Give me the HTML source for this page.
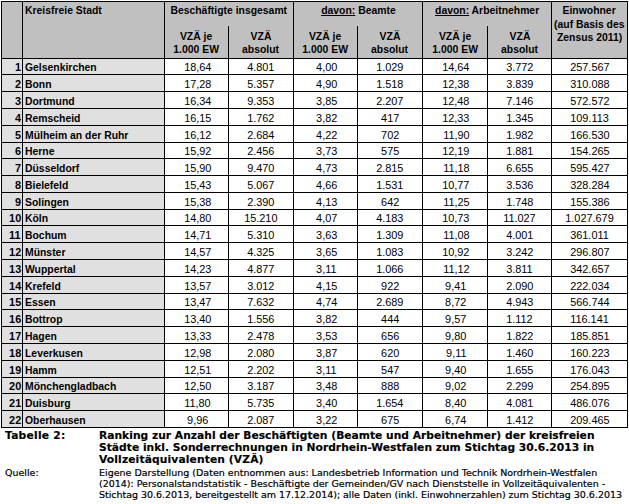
<!DOCTYPE html>
<html><head><meta charset="utf-8"><title>Tabelle 2</title><style>
html,body{margin:0;padding:0;background:#fff;}
body{width:629px;height:504px;position:relative;overflow:hidden;}
.r{position:absolute;}
.t{position:absolute;height:14px;line-height:14px;font-family:"Liberation Sans",Arial,sans-serif;font-size:11px;color:#000;white-space:nowrap;}
.t span{display:inline-block;transform:scaleX(0.945);}
.t.n span{transform:scaleX(0.99);}
.b{font-weight:bold;}
u{text-decoration:underline;text-underline-offset:1px;}
.cb,.cr{position:absolute;white-space:nowrap;font-family:"DejaVu Sans",Verdana,sans-serif;color:#000;height:13px;line-height:13px;}
.cb{font-weight:bold;font-size:10.7px;-webkit-text-stroke:0.15px #000;}
.cr{font-size:9.5px;-webkit-text-stroke:0.2px #000;}
</style></head>
<body>
<div class="r" style="left:1px;top:1px;width:626px;height:57px;background:#c0c0c0"></div>
<div class="r" style="left:1px;top:58px;width:163px;height:369px;background:#e0e0e0"></div>
<div class="t b" style="left:25px;top:3px;width:140px;text-align:left"><span style="transform-origin:left">Kreisfreie Stadt</span></div>
<div class="t b" style="left:164px;top:3px;width:130px;text-align:center"><span style="transform-origin:center">Beschäftigte insgesamt</span></div>
<div class="t b" style="left:293px;top:3px;width:130px;text-align:center"><span style="transform-origin:center"><u>davon:</u> Beamte</span></div>
<div class="t b" style="left:422px;top:3px;width:130px;text-align:center"><span style="transform-origin:center"><u>davon:</u> Arbeitnehmer</span></div>
<div class="t b" style="left:551px;top:3px;width:77px;text-align:center"><span style="transform-origin:center">Einwohner</span></div>
<div class="t b" style="left:551px;top:16.5px;width:77px;text-align:center"><span style="transform-origin:center">(auf Basis des</span></div>
<div class="t b" style="left:551px;top:30px;width:77px;text-align:center"><span style="transform-origin:center">Zensus 2011)</span></div>
<div class="t b" style="left:164px;top:29px;width:65px;text-align:center"><span style="transform-origin:center">VZÄ je</span></div>
<div class="t b" style="left:164px;top:42px;width:65px;text-align:center"><span style="transform-origin:center">1.000 EW</span></div>
<div class="t b" style="left:228px;top:29px;width:66px;text-align:center"><span style="transform-origin:center">VZÄ</span></div>
<div class="t b" style="left:228px;top:42px;width:66px;text-align:center"><span style="transform-origin:center">absolut</span></div>
<div class="t b" style="left:293px;top:29px;width:65px;text-align:center"><span style="transform-origin:center">VZÄ je</span></div>
<div class="t b" style="left:293px;top:42px;width:65px;text-align:center"><span style="transform-origin:center">1.000 EW</span></div>
<div class="t b" style="left:357px;top:29px;width:66px;text-align:center"><span style="transform-origin:center">VZÄ</span></div>
<div class="t b" style="left:357px;top:42px;width:66px;text-align:center"><span style="transform-origin:center">absolut</span></div>
<div class="t b" style="left:422px;top:29px;width:66px;text-align:center"><span style="transform-origin:center">VZÄ je</span></div>
<div class="t b" style="left:422px;top:42px;width:66px;text-align:center"><span style="transform-origin:center">1.000 EW</span></div>
<div class="t b" style="left:487px;top:29px;width:65px;text-align:center"><span style="transform-origin:center">VZÄ</span></div>
<div class="t b" style="left:487px;top:42px;width:65px;text-align:center"><span style="transform-origin:center">absolut</span></div>
<div class="t n b" style="left:1px;top:60px;width:20px;text-align:right"><span style="transform-origin:right">1</span></div>
<div class="t b" style="left:25px;top:60px;width:140px;text-align:left"><span style="transform-origin:left">Gelsenkirchen</span></div>
<div class="t n" style="left:165px;top:60px;width:65px;text-align:center"><span style="transform-origin:center">18,64</span></div>
<div class="t n" style="left:228px;top:60px;width:66px;text-align:center"><span style="transform-origin:center">4.801</span></div>
<div class="t n" style="left:294px;top:60px;width:65px;text-align:center"><span style="transform-origin:center">4,00</span></div>
<div class="t n" style="left:357px;top:60px;width:66px;text-align:center"><span style="transform-origin:center">1.029</span></div>
<div class="t n" style="left:423px;top:60px;width:66px;text-align:center"><span style="transform-origin:center">14,64</span></div>
<div class="t n" style="left:487px;top:60px;width:65px;text-align:center"><span style="transform-origin:center">3.772</span></div>
<div class="t n" style="left:551px;top:60px;width:77px;text-align:center"><span style="transform-origin:center">257.567</span></div>
<div class="t n b" style="left:1px;top:77px;width:20px;text-align:right"><span style="transform-origin:right">2</span></div>
<div class="t b" style="left:25px;top:77px;width:140px;text-align:left"><span style="transform-origin:left">Bonn</span></div>
<div class="t n" style="left:165px;top:77px;width:65px;text-align:center"><span style="transform-origin:center">17,28</span></div>
<div class="t n" style="left:228px;top:77px;width:66px;text-align:center"><span style="transform-origin:center">5.357</span></div>
<div class="t n" style="left:294px;top:77px;width:65px;text-align:center"><span style="transform-origin:center">4,90</span></div>
<div class="t n" style="left:357px;top:77px;width:66px;text-align:center"><span style="transform-origin:center">1.518</span></div>
<div class="t n" style="left:423px;top:77px;width:66px;text-align:center"><span style="transform-origin:center">12,38</span></div>
<div class="t n" style="left:487px;top:77px;width:65px;text-align:center"><span style="transform-origin:center">3.839</span></div>
<div class="t n" style="left:551px;top:77px;width:77px;text-align:center"><span style="transform-origin:center">310.088</span></div>
<div class="t n b" style="left:1px;top:94px;width:20px;text-align:right"><span style="transform-origin:right">3</span></div>
<div class="t b" style="left:25px;top:94px;width:140px;text-align:left"><span style="transform-origin:left">Dortmund</span></div>
<div class="t n" style="left:165px;top:94px;width:65px;text-align:center"><span style="transform-origin:center">16,34</span></div>
<div class="t n" style="left:228px;top:94px;width:66px;text-align:center"><span style="transform-origin:center">9.353</span></div>
<div class="t n" style="left:294px;top:94px;width:65px;text-align:center"><span style="transform-origin:center">3,85</span></div>
<div class="t n" style="left:357px;top:94px;width:66px;text-align:center"><span style="transform-origin:center">2.207</span></div>
<div class="t n" style="left:423px;top:94px;width:66px;text-align:center"><span style="transform-origin:center">12,48</span></div>
<div class="t n" style="left:487px;top:94px;width:65px;text-align:center"><span style="transform-origin:center">7.146</span></div>
<div class="t n" style="left:551px;top:94px;width:77px;text-align:center"><span style="transform-origin:center">572.572</span></div>
<div class="t n b" style="left:1px;top:111px;width:20px;text-align:right"><span style="transform-origin:right">4</span></div>
<div class="t b" style="left:25px;top:111px;width:140px;text-align:left"><span style="transform-origin:left">Remscheid</span></div>
<div class="t n" style="left:165px;top:111px;width:65px;text-align:center"><span style="transform-origin:center">16,15</span></div>
<div class="t n" style="left:228px;top:111px;width:66px;text-align:center"><span style="transform-origin:center">1.762</span></div>
<div class="t n" style="left:294px;top:111px;width:65px;text-align:center"><span style="transform-origin:center">3,82</span></div>
<div class="t n" style="left:357px;top:111px;width:66px;text-align:center"><span style="transform-origin:center">417</span></div>
<div class="t n" style="left:423px;top:111px;width:66px;text-align:center"><span style="transform-origin:center">12,33</span></div>
<div class="t n" style="left:487px;top:111px;width:65px;text-align:center"><span style="transform-origin:center">1.345</span></div>
<div class="t n" style="left:551px;top:111px;width:77px;text-align:center"><span style="transform-origin:center">109.113</span></div>
<div class="t n b" style="left:1px;top:128px;width:20px;text-align:right"><span style="transform-origin:right">5</span></div>
<div class="t b" style="left:25px;top:128px;width:140px;text-align:left"><span style="transform-origin:left">Mülheim an der Ruhr</span></div>
<div class="t n" style="left:165px;top:128px;width:65px;text-align:center"><span style="transform-origin:center">16,12</span></div>
<div class="t n" style="left:228px;top:128px;width:66px;text-align:center"><span style="transform-origin:center">2.684</span></div>
<div class="t n" style="left:294px;top:128px;width:65px;text-align:center"><span style="transform-origin:center">4,22</span></div>
<div class="t n" style="left:357px;top:128px;width:66px;text-align:center"><span style="transform-origin:center">702</span></div>
<div class="t n" style="left:423px;top:128px;width:66px;text-align:center"><span style="transform-origin:center">11,90</span></div>
<div class="t n" style="left:487px;top:128px;width:65px;text-align:center"><span style="transform-origin:center">1.982</span></div>
<div class="t n" style="left:551px;top:128px;width:77px;text-align:center"><span style="transform-origin:center">166.530</span></div>
<div class="t n b" style="left:1px;top:144px;width:20px;text-align:right"><span style="transform-origin:right">6</span></div>
<div class="t b" style="left:25px;top:144px;width:140px;text-align:left"><span style="transform-origin:left">Herne</span></div>
<div class="t n" style="left:165px;top:144px;width:65px;text-align:center"><span style="transform-origin:center">15,92</span></div>
<div class="t n" style="left:228px;top:144px;width:66px;text-align:center"><span style="transform-origin:center">2.456</span></div>
<div class="t n" style="left:294px;top:144px;width:65px;text-align:center"><span style="transform-origin:center">3,73</span></div>
<div class="t n" style="left:357px;top:144px;width:66px;text-align:center"><span style="transform-origin:center">575</span></div>
<div class="t n" style="left:423px;top:144px;width:66px;text-align:center"><span style="transform-origin:center">12,19</span></div>
<div class="t n" style="left:487px;top:144px;width:65px;text-align:center"><span style="transform-origin:center">1.881</span></div>
<div class="t n" style="left:551px;top:144px;width:77px;text-align:center"><span style="transform-origin:center">154.265</span></div>
<div class="t n b" style="left:1px;top:161px;width:20px;text-align:right"><span style="transform-origin:right">7</span></div>
<div class="t b" style="left:25px;top:161px;width:140px;text-align:left"><span style="transform-origin:left">Düsseldorf</span></div>
<div class="t n" style="left:165px;top:161px;width:65px;text-align:center"><span style="transform-origin:center">15,90</span></div>
<div class="t n" style="left:228px;top:161px;width:66px;text-align:center"><span style="transform-origin:center">9.470</span></div>
<div class="t n" style="left:294px;top:161px;width:65px;text-align:center"><span style="transform-origin:center">4,73</span></div>
<div class="t n" style="left:357px;top:161px;width:66px;text-align:center"><span style="transform-origin:center">2.815</span></div>
<div class="t n" style="left:423px;top:161px;width:66px;text-align:center"><span style="transform-origin:center">11,18</span></div>
<div class="t n" style="left:487px;top:161px;width:65px;text-align:center"><span style="transform-origin:center">6.655</span></div>
<div class="t n" style="left:551px;top:161px;width:77px;text-align:center"><span style="transform-origin:center">595.427</span></div>
<div class="t n b" style="left:1px;top:178px;width:20px;text-align:right"><span style="transform-origin:right">8</span></div>
<div class="t b" style="left:25px;top:178px;width:140px;text-align:left"><span style="transform-origin:left">Bielefeld</span></div>
<div class="t n" style="left:165px;top:178px;width:65px;text-align:center"><span style="transform-origin:center">15,43</span></div>
<div class="t n" style="left:228px;top:178px;width:66px;text-align:center"><span style="transform-origin:center">5.067</span></div>
<div class="t n" style="left:294px;top:178px;width:65px;text-align:center"><span style="transform-origin:center">4,66</span></div>
<div class="t n" style="left:357px;top:178px;width:66px;text-align:center"><span style="transform-origin:center">1.531</span></div>
<div class="t n" style="left:423px;top:178px;width:66px;text-align:center"><span style="transform-origin:center">10,77</span></div>
<div class="t n" style="left:487px;top:178px;width:65px;text-align:center"><span style="transform-origin:center">3.536</span></div>
<div class="t n" style="left:551px;top:178px;width:77px;text-align:center"><span style="transform-origin:center">328.284</span></div>
<div class="t n b" style="left:1px;top:195px;width:20px;text-align:right"><span style="transform-origin:right">9</span></div>
<div class="t b" style="left:25px;top:195px;width:140px;text-align:left"><span style="transform-origin:left">Solingen</span></div>
<div class="t n" style="left:165px;top:195px;width:65px;text-align:center"><span style="transform-origin:center">15,38</span></div>
<div class="t n" style="left:228px;top:195px;width:66px;text-align:center"><span style="transform-origin:center">2.390</span></div>
<div class="t n" style="left:294px;top:195px;width:65px;text-align:center"><span style="transform-origin:center">4,13</span></div>
<div class="t n" style="left:357px;top:195px;width:66px;text-align:center"><span style="transform-origin:center">642</span></div>
<div class="t n" style="left:423px;top:195px;width:66px;text-align:center"><span style="transform-origin:center">11,25</span></div>
<div class="t n" style="left:487px;top:195px;width:65px;text-align:center"><span style="transform-origin:center">1.748</span></div>
<div class="t n" style="left:551px;top:195px;width:77px;text-align:center"><span style="transform-origin:center">155.386</span></div>
<div class="t n b" style="left:1px;top:211px;width:20px;text-align:right"><span style="transform-origin:right">10</span></div>
<div class="t b" style="left:25px;top:211px;width:140px;text-align:left"><span style="transform-origin:left">Köln</span></div>
<div class="t n" style="left:165px;top:211px;width:65px;text-align:center"><span style="transform-origin:center">14,80</span></div>
<div class="t n" style="left:228px;top:211px;width:66px;text-align:center"><span style="transform-origin:center">15.210</span></div>
<div class="t n" style="left:294px;top:211px;width:65px;text-align:center"><span style="transform-origin:center">4,07</span></div>
<div class="t n" style="left:357px;top:211px;width:66px;text-align:center"><span style="transform-origin:center">4.183</span></div>
<div class="t n" style="left:423px;top:211px;width:66px;text-align:center"><span style="transform-origin:center">10,73</span></div>
<div class="t n" style="left:487px;top:211px;width:65px;text-align:center"><span style="transform-origin:center">11.027</span></div>
<div class="t n" style="left:551px;top:211px;width:77px;text-align:center"><span style="transform-origin:center">1.027.679</span></div>
<div class="t n b" style="left:1px;top:228px;width:20px;text-align:right"><span style="transform-origin:right">11</span></div>
<div class="t b" style="left:25px;top:228px;width:140px;text-align:left"><span style="transform-origin:left">Bochum</span></div>
<div class="t n" style="left:165px;top:228px;width:65px;text-align:center"><span style="transform-origin:center">14,71</span></div>
<div class="t n" style="left:228px;top:228px;width:66px;text-align:center"><span style="transform-origin:center">5.310</span></div>
<div class="t n" style="left:294px;top:228px;width:65px;text-align:center"><span style="transform-origin:center">3,63</span></div>
<div class="t n" style="left:357px;top:228px;width:66px;text-align:center"><span style="transform-origin:center">1.309</span></div>
<div class="t n" style="left:423px;top:228px;width:66px;text-align:center"><span style="transform-origin:center">11,08</span></div>
<div class="t n" style="left:487px;top:228px;width:65px;text-align:center"><span style="transform-origin:center">4.001</span></div>
<div class="t n" style="left:551px;top:228px;width:77px;text-align:center"><span style="transform-origin:center">361.011</span></div>
<div class="t n b" style="left:1px;top:245px;width:20px;text-align:right"><span style="transform-origin:right">12</span></div>
<div class="t b" style="left:25px;top:245px;width:140px;text-align:left"><span style="transform-origin:left">Münster</span></div>
<div class="t n" style="left:165px;top:245px;width:65px;text-align:center"><span style="transform-origin:center">14,57</span></div>
<div class="t n" style="left:228px;top:245px;width:66px;text-align:center"><span style="transform-origin:center">4.325</span></div>
<div class="t n" style="left:294px;top:245px;width:65px;text-align:center"><span style="transform-origin:center">3,65</span></div>
<div class="t n" style="left:357px;top:245px;width:66px;text-align:center"><span style="transform-origin:center">1.083</span></div>
<div class="t n" style="left:423px;top:245px;width:66px;text-align:center"><span style="transform-origin:center">10,92</span></div>
<div class="t n" style="left:487px;top:245px;width:65px;text-align:center"><span style="transform-origin:center">3.242</span></div>
<div class="t n" style="left:551px;top:245px;width:77px;text-align:center"><span style="transform-origin:center">296.807</span></div>
<div class="t n b" style="left:1px;top:262px;width:20px;text-align:right"><span style="transform-origin:right">13</span></div>
<div class="t b" style="left:25px;top:262px;width:140px;text-align:left"><span style="transform-origin:left">Wuppertal</span></div>
<div class="t n" style="left:165px;top:262px;width:65px;text-align:center"><span style="transform-origin:center">14,23</span></div>
<div class="t n" style="left:228px;top:262px;width:66px;text-align:center"><span style="transform-origin:center">4.877</span></div>
<div class="t n" style="left:294px;top:262px;width:65px;text-align:center"><span style="transform-origin:center">3,11</span></div>
<div class="t n" style="left:357px;top:262px;width:66px;text-align:center"><span style="transform-origin:center">1.066</span></div>
<div class="t n" style="left:423px;top:262px;width:66px;text-align:center"><span style="transform-origin:center">11,12</span></div>
<div class="t n" style="left:487px;top:262px;width:65px;text-align:center"><span style="transform-origin:center">3.811</span></div>
<div class="t n" style="left:551px;top:262px;width:77px;text-align:center"><span style="transform-origin:center">342.657</span></div>
<div class="t n b" style="left:1px;top:279px;width:20px;text-align:right"><span style="transform-origin:right">14</span></div>
<div class="t b" style="left:25px;top:279px;width:140px;text-align:left"><span style="transform-origin:left">Krefeld</span></div>
<div class="t n" style="left:165px;top:279px;width:65px;text-align:center"><span style="transform-origin:center">13,57</span></div>
<div class="t n" style="left:228px;top:279px;width:66px;text-align:center"><span style="transform-origin:center">3.012</span></div>
<div class="t n" style="left:294px;top:279px;width:65px;text-align:center"><span style="transform-origin:center">4,15</span></div>
<div class="t n" style="left:357px;top:279px;width:66px;text-align:center"><span style="transform-origin:center">922</span></div>
<div class="t n" style="left:423px;top:279px;width:66px;text-align:center"><span style="transform-origin:center">9,41</span></div>
<div class="t n" style="left:487px;top:279px;width:65px;text-align:center"><span style="transform-origin:center">2.090</span></div>
<div class="t n" style="left:551px;top:279px;width:77px;text-align:center"><span style="transform-origin:center">222.034</span></div>
<div class="t n b" style="left:1px;top:295px;width:20px;text-align:right"><span style="transform-origin:right">15</span></div>
<div class="t b" style="left:25px;top:295px;width:140px;text-align:left"><span style="transform-origin:left">Essen</span></div>
<div class="t n" style="left:165px;top:295px;width:65px;text-align:center"><span style="transform-origin:center">13,47</span></div>
<div class="t n" style="left:228px;top:295px;width:66px;text-align:center"><span style="transform-origin:center">7.632</span></div>
<div class="t n" style="left:294px;top:295px;width:65px;text-align:center"><span style="transform-origin:center">4,74</span></div>
<div class="t n" style="left:357px;top:295px;width:66px;text-align:center"><span style="transform-origin:center">2.689</span></div>
<div class="t n" style="left:423px;top:295px;width:66px;text-align:center"><span style="transform-origin:center">8,72</span></div>
<div class="t n" style="left:487px;top:295px;width:65px;text-align:center"><span style="transform-origin:center">4.943</span></div>
<div class="t n" style="left:551px;top:295px;width:77px;text-align:center"><span style="transform-origin:center">566.744</span></div>
<div class="t n b" style="left:1px;top:312px;width:20px;text-align:right"><span style="transform-origin:right">16</span></div>
<div class="t b" style="left:25px;top:312px;width:140px;text-align:left"><span style="transform-origin:left">Bottrop</span></div>
<div class="t n" style="left:165px;top:312px;width:65px;text-align:center"><span style="transform-origin:center">13,40</span></div>
<div class="t n" style="left:228px;top:312px;width:66px;text-align:center"><span style="transform-origin:center">1.556</span></div>
<div class="t n" style="left:294px;top:312px;width:65px;text-align:center"><span style="transform-origin:center">3,82</span></div>
<div class="t n" style="left:357px;top:312px;width:66px;text-align:center"><span style="transform-origin:center">444</span></div>
<div class="t n" style="left:423px;top:312px;width:66px;text-align:center"><span style="transform-origin:center">9,57</span></div>
<div class="t n" style="left:487px;top:312px;width:65px;text-align:center"><span style="transform-origin:center">1.112</span></div>
<div class="t n" style="left:551px;top:312px;width:77px;text-align:center"><span style="transform-origin:center">116.141</span></div>
<div class="t n b" style="left:1px;top:329px;width:20px;text-align:right"><span style="transform-origin:right">17</span></div>
<div class="t b" style="left:25px;top:329px;width:140px;text-align:left"><span style="transform-origin:left">Hagen</span></div>
<div class="t n" style="left:165px;top:329px;width:65px;text-align:center"><span style="transform-origin:center">13,33</span></div>
<div class="t n" style="left:228px;top:329px;width:66px;text-align:center"><span style="transform-origin:center">2.478</span></div>
<div class="t n" style="left:294px;top:329px;width:65px;text-align:center"><span style="transform-origin:center">3,53</span></div>
<div class="t n" style="left:357px;top:329px;width:66px;text-align:center"><span style="transform-origin:center">656</span></div>
<div class="t n" style="left:423px;top:329px;width:66px;text-align:center"><span style="transform-origin:center">9,80</span></div>
<div class="t n" style="left:487px;top:329px;width:65px;text-align:center"><span style="transform-origin:center">1.822</span></div>
<div class="t n" style="left:551px;top:329px;width:77px;text-align:center"><span style="transform-origin:center">185.851</span></div>
<div class="t n b" style="left:1px;top:346px;width:20px;text-align:right"><span style="transform-origin:right">18</span></div>
<div class="t b" style="left:25px;top:346px;width:140px;text-align:left"><span style="transform-origin:left">Leverkusen</span></div>
<div class="t n" style="left:165px;top:346px;width:65px;text-align:center"><span style="transform-origin:center">12,98</span></div>
<div class="t n" style="left:228px;top:346px;width:66px;text-align:center"><span style="transform-origin:center">2.080</span></div>
<div class="t n" style="left:294px;top:346px;width:65px;text-align:center"><span style="transform-origin:center">3,87</span></div>
<div class="t n" style="left:357px;top:346px;width:66px;text-align:center"><span style="transform-origin:center">620</span></div>
<div class="t n" style="left:423px;top:346px;width:66px;text-align:center"><span style="transform-origin:center">9,11</span></div>
<div class="t n" style="left:487px;top:346px;width:65px;text-align:center"><span style="transform-origin:center">1.460</span></div>
<div class="t n" style="left:551px;top:346px;width:77px;text-align:center"><span style="transform-origin:center">160.223</span></div>
<div class="t n b" style="left:1px;top:363px;width:20px;text-align:right"><span style="transform-origin:right">19</span></div>
<div class="t b" style="left:25px;top:363px;width:140px;text-align:left"><span style="transform-origin:left">Hamm</span></div>
<div class="t n" style="left:165px;top:363px;width:65px;text-align:center"><span style="transform-origin:center">12,51</span></div>
<div class="t n" style="left:228px;top:363px;width:66px;text-align:center"><span style="transform-origin:center">2.202</span></div>
<div class="t n" style="left:294px;top:363px;width:65px;text-align:center"><span style="transform-origin:center">3,11</span></div>
<div class="t n" style="left:357px;top:363px;width:66px;text-align:center"><span style="transform-origin:center">547</span></div>
<div class="t n" style="left:423px;top:363px;width:66px;text-align:center"><span style="transform-origin:center">9,40</span></div>
<div class="t n" style="left:487px;top:363px;width:65px;text-align:center"><span style="transform-origin:center">1.655</span></div>
<div class="t n" style="left:551px;top:363px;width:77px;text-align:center"><span style="transform-origin:center">176.043</span></div>
<div class="t n b" style="left:1px;top:379px;width:20px;text-align:right"><span style="transform-origin:right">20</span></div>
<div class="t b" style="left:25px;top:379px;width:140px;text-align:left"><span style="transform-origin:left">Mönchengladbach</span></div>
<div class="t n" style="left:165px;top:379px;width:65px;text-align:center"><span style="transform-origin:center">12,50</span></div>
<div class="t n" style="left:228px;top:379px;width:66px;text-align:center"><span style="transform-origin:center">3.187</span></div>
<div class="t n" style="left:294px;top:379px;width:65px;text-align:center"><span style="transform-origin:center">3,48</span></div>
<div class="t n" style="left:357px;top:379px;width:66px;text-align:center"><span style="transform-origin:center">888</span></div>
<div class="t n" style="left:423px;top:379px;width:66px;text-align:center"><span style="transform-origin:center">9,02</span></div>
<div class="t n" style="left:487px;top:379px;width:65px;text-align:center"><span style="transform-origin:center">2.299</span></div>
<div class="t n" style="left:551px;top:379px;width:77px;text-align:center"><span style="transform-origin:center">254.895</span></div>
<div class="t n b" style="left:1px;top:396px;width:20px;text-align:right"><span style="transform-origin:right">21</span></div>
<div class="t b" style="left:25px;top:396px;width:140px;text-align:left"><span style="transform-origin:left">Duisburg</span></div>
<div class="t n" style="left:165px;top:396px;width:65px;text-align:center"><span style="transform-origin:center">11,80</span></div>
<div class="t n" style="left:228px;top:396px;width:66px;text-align:center"><span style="transform-origin:center">5.735</span></div>
<div class="t n" style="left:294px;top:396px;width:65px;text-align:center"><span style="transform-origin:center">3,40</span></div>
<div class="t n" style="left:357px;top:396px;width:66px;text-align:center"><span style="transform-origin:center">1.654</span></div>
<div class="t n" style="left:423px;top:396px;width:66px;text-align:center"><span style="transform-origin:center">8,40</span></div>
<div class="t n" style="left:487px;top:396px;width:65px;text-align:center"><span style="transform-origin:center">4.081</span></div>
<div class="t n" style="left:551px;top:396px;width:77px;text-align:center"><span style="transform-origin:center">486.076</span></div>
<div class="t n b" style="left:1px;top:413px;width:20px;text-align:right"><span style="transform-origin:right">22</span></div>
<div class="t b" style="left:25px;top:413px;width:140px;text-align:left"><span style="transform-origin:left">Oberhausen</span></div>
<div class="t n" style="left:165px;top:413px;width:65px;text-align:center"><span style="transform-origin:center">9,96</span></div>
<div class="t n" style="left:228px;top:413px;width:66px;text-align:center"><span style="transform-origin:center">2.087</span></div>
<div class="t n" style="left:294px;top:413px;width:65px;text-align:center"><span style="transform-origin:center">3,22</span></div>
<div class="t n" style="left:357px;top:413px;width:66px;text-align:center"><span style="transform-origin:center">675</span></div>
<div class="t n" style="left:423px;top:413px;width:66px;text-align:center"><span style="transform-origin:center">6,74</span></div>
<div class="t n" style="left:487px;top:413px;width:65px;text-align:center"><span style="transform-origin:center">1.412</span></div>
<div class="t n" style="left:551px;top:413px;width:77px;text-align:center"><span style="transform-origin:center">209.465</span></div>
<div class="r" style="left:1px;top:1px;width:627px;height:1px;background:#000"></div>
<div class="r" style="left:1px;top:58px;width:627px;height:1px;background:#000"></div>
<div class="r" style="left:1px;top:74px;width:627px;height:1px;background:#000"></div>
<div class="r" style="left:1px;top:91px;width:627px;height:1px;background:#000"></div>
<div class="r" style="left:1px;top:108px;width:627px;height:1px;background:#000"></div>
<div class="r" style="left:1px;top:125px;width:627px;height:1px;background:#000"></div>
<div class="r" style="left:1px;top:142px;width:627px;height:1px;background:#000"></div>
<div class="r" style="left:1px;top:158px;width:627px;height:1px;background:#000"></div>
<div class="r" style="left:1px;top:175px;width:627px;height:1px;background:#000"></div>
<div class="r" style="left:1px;top:192px;width:627px;height:1px;background:#000"></div>
<div class="r" style="left:1px;top:209px;width:627px;height:1px;background:#000"></div>
<div class="r" style="left:1px;top:225px;width:627px;height:1px;background:#000"></div>
<div class="r" style="left:1px;top:242px;width:627px;height:1px;background:#000"></div>
<div class="r" style="left:1px;top:259px;width:627px;height:1px;background:#000"></div>
<div class="r" style="left:1px;top:276px;width:627px;height:1px;background:#000"></div>
<div class="r" style="left:1px;top:293px;width:627px;height:1px;background:#000"></div>
<div class="r" style="left:1px;top:309px;width:627px;height:1px;background:#000"></div>
<div class="r" style="left:1px;top:326px;width:627px;height:1px;background:#000"></div>
<div class="r" style="left:1px;top:343px;width:627px;height:1px;background:#000"></div>
<div class="r" style="left:1px;top:360px;width:627px;height:1px;background:#000"></div>
<div class="r" style="left:1px;top:377px;width:627px;height:1px;background:#000"></div>
<div class="r" style="left:1px;top:393px;width:627px;height:1px;background:#000"></div>
<div class="r" style="left:1px;top:410px;width:627px;height:1px;background:#000"></div>
<div class="r" style="left:1px;top:427px;width:627px;height:1px;background:#000"></div>
<div class="r" style="left:1px;top:1px;width:1px;height:427px;background:#000"></div>
<div class="r" style="left:22px;top:1px;width:1px;height:427px;background:#000"></div>
<div class="r" style="left:164px;top:1px;width:1px;height:427px;background:#000"></div>
<div class="r" style="left:228px;top:26px;width:1px;height:402px;background:#000"></div>
<div class="r" style="left:293px;top:1px;width:1px;height:427px;background:#000"></div>
<div class="r" style="left:357px;top:26px;width:1px;height:402px;background:#000"></div>
<div class="r" style="left:422px;top:1px;width:1px;height:427px;background:#000"></div>
<div class="r" style="left:487px;top:26px;width:1px;height:402px;background:#000"></div>
<div class="r" style="left:551px;top:1px;width:1px;height:427px;background:#000"></div>
<div class="r" style="left:627px;top:1px;width:1px;height:427px;background:#000"></div>
<div class="cb" style="left:5px;top:429.0px;letter-spacing:0.25px">Tabelle 2:</div>
<div class="cb" style="left:99px;top:429.0px;letter-spacing:0.02px">Ranking zur Anzahl der Beschäftigten (Beamte und Arbeitnehmer) der kreisfreien</div>
<div class="cb" style="left:99px;top:441.2px;letter-spacing:0.02px">Städte inkl. Sonderrechnungen in Nordrhein-Westfalen zum Stichtag 30.6.2013 in</div>
<div class="cb" style="left:99px;top:453.4px;letter-spacing:0.13px">Vollzeitäquivalenten (VZÄ)</div>
<div class="cr" style="left:5px;top:466.0px">Quelle:</div>
<div class="cr" style="left:99px;top:466.0px">Eigene Darstellung (Daten entnommen aus: Landesbetrieb Information und Technik Nordrhein-Westfalen</div>
<div class="cr" style="left:99px;top:477.0px;letter-spacing:-0.015px">(2014): Personalstandstatistik - Beschäftigte der Gemeinden/GV nach Dienststelle in Vollzeitäquivalenten -</div>
<div class="cr" style="left:99px;top:488.0px;letter-spacing:-0.023px">Stichtag 30.6.2013, bereitgestellt am 17.12.2014); alle Daten (inkl. Einwohnerzahlen) zum Stichtag 30.6.2013</div>
</body></html>
